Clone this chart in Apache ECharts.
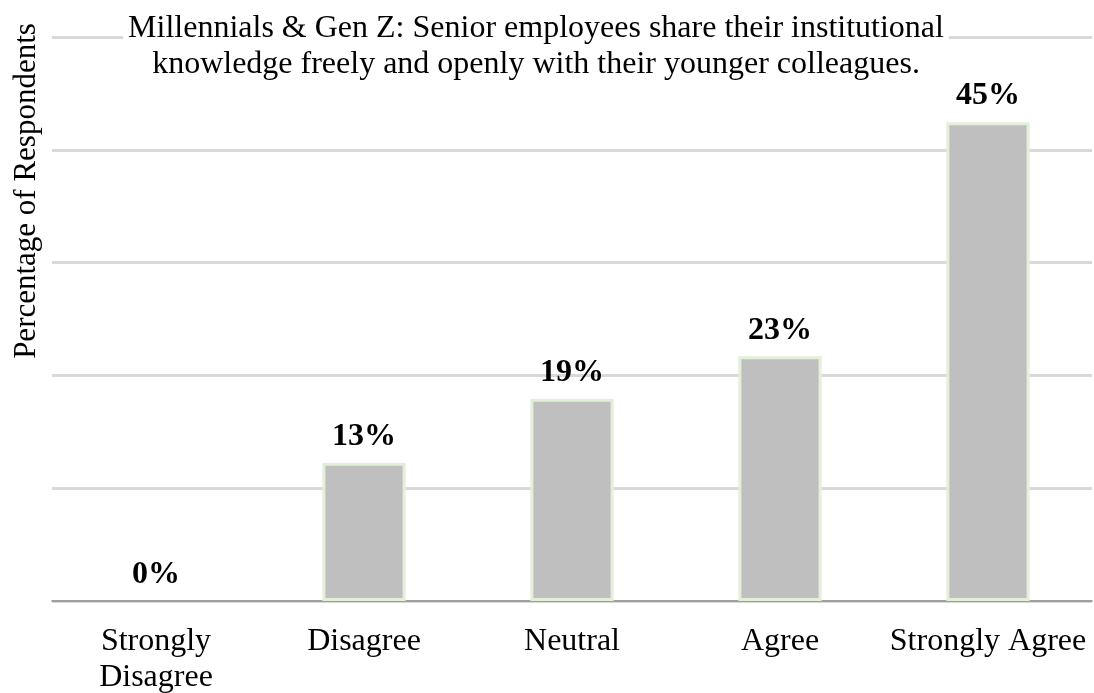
<!DOCTYPE html>
<html>
<head>
<meta charset="utf-8">
<title>Senior employees share institutional knowledge</title>
<script src="https://cdn.jsdelivr.net/npm/echarts@6/dist/echarts.min.js"></script>
<style>
  html, body { margin: 0; padding: 0; background: #fff; }
  #chart { width: 1094px; height: 693px; }
</style>
</head>
<body>
<div id="chart"></div>
<script>
// Survey responses (percentage of respondents)
const categories = ['Strongly\nDisagree', 'Disagree', 'Neutral', 'Agree', 'Strongly Agree'];
const percentages = [0, 13, 19, 23, 45];
const titleLines = [
  'Millennials & Gen Z: Senior employees share their institutional',
  'knowledge freely and openly with their younger colleagues.'
];
const yAxisTitle = 'Percentage of Respondents';

const serif = 'Liberation Serif, Times New Roman, serif';
const chart = echarts.init(document.getElementById('chart'), null, { renderer: 'canvas' });

// empty bars get no outline so nothing sits on the baseline
const barData = percentages.map(v => ({
  value: v,
  itemStyle: v === 0 ? { borderWidth: 0 } : undefined
}));

chart.setOption({
  animation: false,
  backgroundColor: '#ffffff',
  title: {
    text: titleLines.join('\n'),
    left: 531,
    top: 11,
    textAlign: 'center',
    padding: [0, 5],
    backgroundColor: '#ffffff',
    textStyle: {
      fontFamily: serif,
      fontSize: 32,
      fontWeight: 'normal',
      color: '#000000',
      lineHeight: 36
    }
  },
  graphic: [{
    type: 'text',
    x: 27,
    y: 191,
    rotation: Math.PI / 2,
    style: {
      text: yAxisTitle,
      fontFamily: serif,
      fontSize: 31,
      fill: '#000000',
      align: 'center',
      verticalAlign: 'middle'
    }
  }],
  grid: {
    left: 52,
    right: 2,
    top: 37,
    bottom: 92,
    outerBoundsMode: 'none'
  },
  xAxis: {
    type: 'category',
    data: categories,
    axisLine: { lineStyle: { color: '#8c8c8c', width: 1.5 } },
    axisTick: { length: 8, lineStyle: { color: '#8c8c8c', width: 1.5 } },
    axisLabel: {
      interval: 0,
      margin: 23,
      fontFamily: serif,
      fontSize: 32,
      lineHeight: 36,
      color: '#000000'
    }
  },
  yAxis: {
    type: 'value',
    min: 0,
    max: 53,
    interval: 10.6,
    axisLine: { show: false },
    axisTick: { show: false },
    axisLabel: { show: false },
    splitLine: { lineStyle: { color: '#d9d9d9', width: 3 } }
  },
  series: [{
    type: 'bar',
    data: barData,
    barWidth: '40%',
    itemStyle: {
      color: '#bfbfbf',
      borderColor: '#e2efd9',
      borderWidth: 3
    },
    label: {
      show: true,
      position: 'top',
      distance: 10,
      formatter: '{c}%',
      fontFamily: serif,
      fontSize: 32,
      fontWeight: 'bold',
      color: '#000000'
    }
  }]
});
</script>
</body>
</html>
